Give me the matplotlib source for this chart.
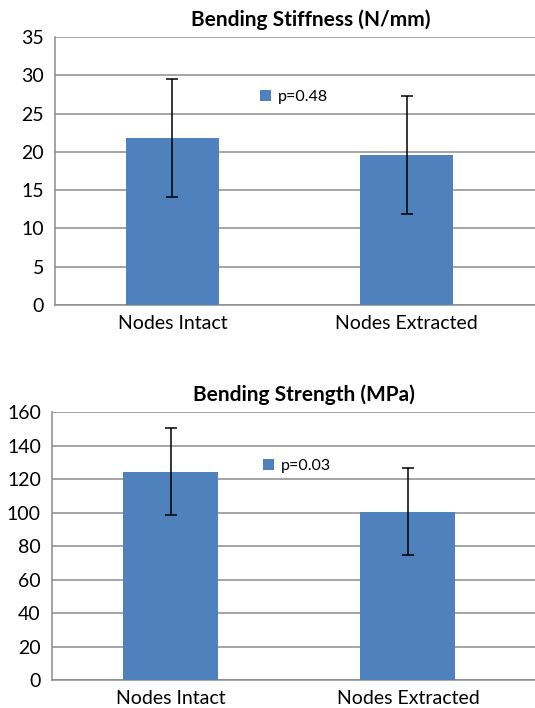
import matplotlib
matplotlib.use('Agg')
import matplotlib.pyplot as plt

plt.rcParams['font.family'] = ['Lato', 'DejaVu Sans']

groups = ['Nodes Intact', 'Nodes Extracted']
stiff_mean = [21.8, 19.55]
stiff_err = [7.7, 7.7]
strength_mean = [124.3, 100.5]
strength_err = [26.0, 26.0]
stiff_p = 'p=0.48'
strength_p = 'p=0.03'

bar_col = '#4F81BD'
grid_col = '#8C8C8C'

fig = plt.figure(figsize=(5.35, 7.08), dpi=100)


def draw(ax, mean, err, title, ptext, ymax, step, xlim, leg_xy, title_x):
    x = range(len(groups))
    ax.bar(x, mean, width=0.4, color=bar_col, label=ptext, zorder=3,
           yerr=err, capsize=4.5, error_kw=dict(ecolor='black', elinewidth=1.1, capthick=1.1, zorder=4))
    ax.set_ylim(0, ymax)
    ax.set_yticks(range(0, ymax + 1, step))
    ax.set_xlim(*xlim)
    ax.set_xticks(list(x))
    ax.set_xticklabels(groups)
    ax.yaxis.grid(True, color=grid_col, lw=1.1, zorder=0)
    for s in ['top', 'right']:
        ax.spines[s].set_visible(False)
    for s in ['left', 'bottom']:
        ax.spines[s].set_color(grid_col)
        ax.spines[s].set_linewidth(1.1)
    ax.tick_params(length=0, labelsize=14, pad=7)
    ax.tick_params(axis='y', pad=8)
    ax.set_title(title, fontsize=15, fontweight='bold', pad=8, x=title_x)
    ax.legend(loc='center left', bbox_to_anchor=leg_xy, frameon=False, fontsize=11.5,
              handlelength=0.7, handleheight=0.7, handletextpad=0.4,
              borderpad=0, borderaxespad=0)


ax1 = fig.add_axes([0.1028, 0.5692, 0.8972, 0.3785])
draw(ax1, stiff_mean, stiff_err, 'Bending Stiffness (N/mm)', stiff_p, 35, 5,
     (-0.502, 1.549), (0.427, 0.776), 0.533)

ax2 = fig.add_axes([0.0972, 0.0395, 0.9028, 0.3785])
draw(ax2, strength_mean, strength_err, 'Bending Strength (MPa)', strength_p, 160, 20,
     (-0.501, 1.536), (0.437, 0.80), 0.522)

plt.savefig('out.png', dpi=100)
